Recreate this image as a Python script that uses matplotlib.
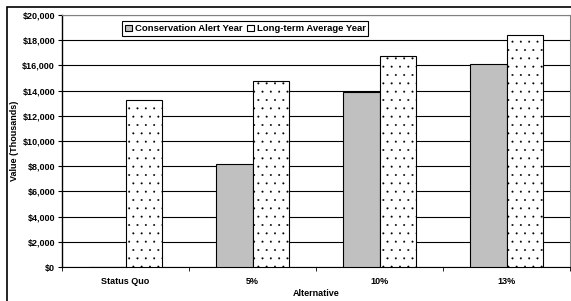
import numpy as np
import matplotlib
matplotlib.use("Agg")
import matplotlib.pyplot as plt
from matplotlib.patches import Rectangle
from matplotlib.ticker import FuncFormatter, MultipleLocator

categories = ["Status Quo", "5%", "10%", "13%"]
conservation = [0, 8200, 13900, 16150]
long_term = [13250, 14800, 16750, 18400]

plt.rcParams["font.family"] = ["Liberation Sans", "DejaVu Sans"]
plt.rcParams["font.weight"] = "bold"
plt.rcParams["hatch.linewidth"] = 0.2
plt.rcParams["hatch.color"] = "#444444"

fig = plt.figure(figsize=(5.71, 3.01), dpi=100)
ax = fig.add_axes([62 / 571, 34 / 301, 508 / 571, 252 / 301])

x = np.arange(len(categories))
w = 0.287
ax.bar(x - w / 2, conservation, width=w, color="#c0c0c0", edgecolor="black",
       linewidth=0.8, label="Conservation Alert Year", zorder=3)
ax.bar(x + w / 2, long_term, width=w, color="white", edgecolor="black",
       linewidth=0.8, hatch="..", label="Long-term Average Year", zorder=3)

ax.set_xlim(-0.5, len(categories) - 0.5)
ax.set_ylim(0, 20000)
ax.yaxis.set_major_locator(MultipleLocator(2000))
ax.yaxis.set_major_formatter(FuncFormatter(lambda v, p: "${:,.0f}".format(v)))
ax.grid(axis="y", color="black", linewidth=0.8, zorder=0)

ax.set_xticks(x)
ax.set_xticklabels(categories, fontsize=6.5, fontweight="bold")
ax.set_xticks(np.arange(len(categories) + 1) - 0.5, minor=True)
ax.tick_params(axis="x", which="major", length=0, pad=7)
ax.tick_params(axis="x", which="minor", length=3, direction="out")
ax.tick_params(axis="y", labelsize=6.5, length=3, direction="out", pad=2)
for lab in ax.get_yticklabels():
    lab.set_fontweight("bold")

ax.set_xlabel("Alternative", fontsize=6.5, fontweight="bold", labelpad=2)
ax.set_ylabel("Value (Thousands)", fontsize=6.5, fontweight="bold")
ax.yaxis.set_label_coords(-(62 - 19) / 508, 0.5)

for s in ("top", "right"):
    ax.spines[s].set_color("#808080")
for s in ("left", "bottom"):
    ax.spines[s].set_color("black")
ax.spines["left"].set_linewidth(1.0)

leg = ax.legend(loc="upper center", bbox_to_anchor=(0.361, 0.975), ncol=2,
                frameon=True, fancybox=False, edgecolor="black", framealpha=1,
                fontsize=6.8, handlelength=0.7, handleheight=0.7,
                handletextpad=0.3, columnspacing=0.5, borderpad=0.3,
                borderaxespad=0)
leg.get_frame().set_linewidth(0.8)
for t in leg.get_texts():
    t.set_fontweight("bold")

fig.patches.append(Rectangle((7 / 571, -0.1), 1.2, 1.1 - 7 / 301,
                             transform=fig.transFigure, fill=False,
                             edgecolor="black", linewidth=1.2))

fig.savefig("out.png", dpi=100)
